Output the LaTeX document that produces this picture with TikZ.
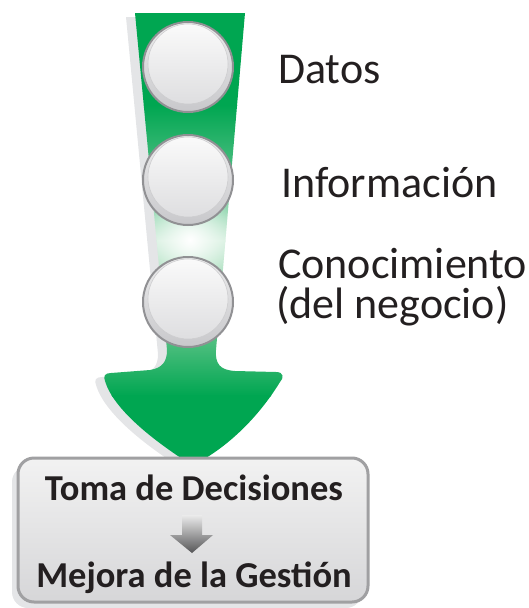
\documentclass[tikz,border=0pt]{standalone}
\usepackage{fontspec}
\setmainfont{Carlito}
\usetikzlibrary{fadings}
\definecolor{grn}{RGB}{0,166,81}
\definecolor{gtwo}{RGB}{70,188,125}
\definecolor{gthree}{RGB}{210,238,220}
\definecolor{gfour}{RGB}{110,200,145}
\definecolor{shadowgray}{RGB}{228,229,231}
\definecolor{ringgray}{RGB}{145,145,148}
\definecolor{txt}{RGB}{35,31,32}
\definecolor{boxline}{RGB}{160,160,162}
\tikzfading[name=glow, inner color=transparent!0, outer color=transparent!100]
\tikzset{
  orb/.style={circle, minimum size=90pt, inner sep=0pt, draw=ringgray, line width=2pt,
    top color={rgb,255:red,236;green,236;blue,237}, bottom color={rgb,255:red,200;green,200;blue,203}},
  orbin/.style={circle, minimum size=80pt, inner sep=0pt, draw={rgb,255:red,205;green,205;blue,207}, line width=0.6pt,
    top color={rgb,255:red,250;green,250;blue,250}, bottom color={rgb,255:red,222;green,222;blue,224}},
  lbl/.style={anchor=base west, inner sep=0pt, text=txt, font=\fontsize{44}{40}\selectfont},
  boxtxt/.style={anchor=base, inner sep=0pt, text=txt, font=\bfseries\fontsize{36.5}{40}\selectfont}
}
\def\arrowpath{(135,13) -- (245,13) -- (216,350)
  .. controls (215,364) and (220,370) .. (235,371) -- (276,372)
  .. controls (284,372) and (284,378) .. (280,382)
  .. controls (258,418) and (228,446) .. (199,462)
  .. controls (195,466) and (191,466) .. (187,462)
  .. controls (150,438) and (113,408) .. (105,381)
  .. controls (103,376) and (105,373) .. (111,373) -- (150,370)
  .. controls (162,368) and (167,362) .. (167,350) -- cycle}
\begin{document}
\begin{tikzpicture}[x=1pt,y=-1pt]
\useasboundingbox (0,0) rectangle (529,608);
% shadow of green arrow
\fill[shadowgray, shift={(-9,4)}] \arrowpath;
% green arrow
\begin{scope}
  \clip \arrowpath;
  \fill[grn] (90,0) rectangle (300,106);
  \shade[top color=grn, bottom color=gtwo] (90,105) rectangle (300,166);
  \shade[top color=gtwo, bottom color=gthree] (90,165) rectangle (300,241);
  \shade[top color=gthree, bottom color=gfour] (90,240) rectangle (300,321);
  \shade[top color=gfour, bottom color=grn] (90,320) rectangle (300,396);
  \fill[grn] (90,395) rectangle (300,470);
  \fill[white, path fading=glow] (190,240) circle (48);
\end{scope}
% circles
\node[orb] (c1) at (188,67) {};
\node[orbin] (c1in) at (188,64) {};
\node[orb] (c2) at (188,180) {};
\node[orbin] (c2in) at (188,177) {};
\node[orb] (c3) at (188,302) {};
\node[orbin] (c3in) at (188,299) {};
% labels
\node[lbl] (datos) at (278,83) {Datos};
\node[lbl] (info) at (281,197) {Información};
\node[lbl] (cono) at (278,278) {Conocimiento};
\node[lbl] (neg) at (276,318) {(del negocio)};
% box
\fill[shadowgray] (12,466) [rounded corners=16pt] rectangle (362,608);
\shade[draw=boxline, line width=3pt, rounded corners=16pt,
  top color={rgb,255:red,242;green,242;blue,242}, bottom color={rgb,255:red,214;green,214;blue,216}]
  (18,458) rectangle (368,602);
\node[boxtxt] (toma) at (194,500) {Toma de Decisiones};
\node[boxtxt] (mejora) at (194,587) {Mejora de la Gestión};
% small arrow
\shade[top color={rgb,255:red,235;green,235;blue,235}, bottom color={rgb,255:red,85;green,85;blue,87}]
  (182,515) -- (202,515) -- (202,535) -- (213,535) -- (192,553) -- (170,535) -- (182,535) -- cycle;
\end{tikzpicture}
\end{document}
